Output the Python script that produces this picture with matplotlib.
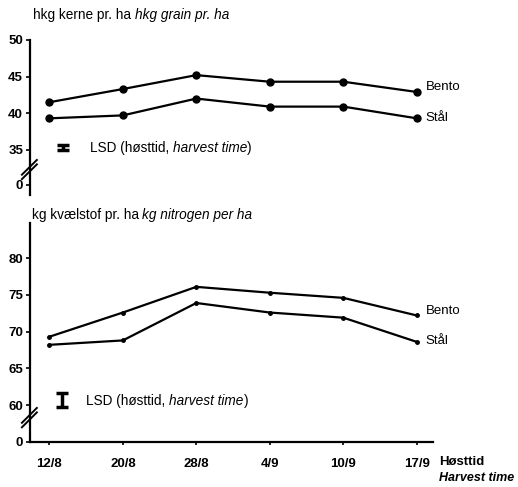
import numpy as np
import matplotlib
matplotlib.use("Agg")
import matplotlib.pyplot as plt

plt.rcParams['font.family'] = ['Liberation Sans', 'DejaVu Sans']

# harvest dates
dates = ['12/8', '20/8', '28/8', '4/9', '10/9', '17/9']

# grain yield, hkg/ha
grain_bento = [41.5, 43.3, 45.2, 44.3, 44.3, 42.9]
grain_staal = [39.3, 39.7, 42.0, 40.9, 40.9, 39.3]
lsd_grain = 0.7

# nitrogen, kg/ha
n_bento = [69.3, 72.6, 76.1, 75.3, 74.6, 72.2]
n_staal = [68.2, 68.8, 73.9, 72.6, 71.9, 68.6]
lsd_n = 1.9

grain_ticks = [0, 35, 40, 45, 50]
n_ticks = [0, 60, 65, 70, 75, 80]


def broken(lo, zero_at):
    # squeeze 0..lo into a short stretch so the axis can be "broken"
    def fwd(v):
        v = np.asarray(v, dtype=float)
        return np.where(v >= lo, v, zero_at + v * (lo - zero_at) / lo)

    def inv(y):
        y = np.asarray(y, dtype=float)
        return np.where(y >= lo, y, (y - zero_at) * lo / (lo - zero_at))
    return fwd, inv


def break_marks(ax, y0, dy):
    # two slanted strokes across the y axis
    for off in (0.0, dy * 0.3):
        ax.plot([-0.02, 0.017], [y0 + off - dy / 2, y0 + off + dy / 2], color='black', lw=1.4,
                transform=ax.transAxes, clip_on=False)


def mixed(ax, x, y, parts, size, coords='data'):
    # parts: list of (text, style)
    t = ax.text(x, y, parts[0][0], fontsize=size, style=parts[0][1], va='baseline',
                transform=ax.transData if coords == 'data' else ax.transAxes)
    for txt, st in parts[1:]:
        t = ax.annotate(txt, xy=(1, 0), xycoords=t, fontsize=size, style=st, va='bottom')
    return t


fig = plt.figure(figsize=(5.18, 4.87), dpi=100)
ax1 = fig.add_axes([0.0579, 0.5996, 0.778, 0.3183])
ax2 = fig.add_axes([0.0579, 0.0930, 0.778, 0.4491])

x = np.arange(len(dates))

# top: grain
ax1.set_yscale('function', functions=broken(34.5, 30.2))
ax1.plot(x, grain_bento, '-o', color='black', lw=1.6, ms=5)
ax1.plot(x, grain_staal, '-o', color='black', lw=1.6, ms=5)
ax1.set_ylim(-11, 50)
ax1.set_xlim(-0.263, 5.22)
ax1.set_yticks(grain_ticks)
ax1.set_xticks([])
for s in ['top', 'right', 'bottom']:
    ax1.spines[s].set_visible(False)
ax1.annotate('Bento', (x[-1], grain_bento[-1]), xytext=(6.5, 3.5), textcoords='offset points',
             fontsize=9.5, va='center')
ax1.annotate('Stål', (x[-1], grain_staal[-1]), xytext=(6.5, 0.5), textcoords='offset points',
             fontsize=9.5, va='center')
ax1.errorbar([0.19], [35.3], yerr=[lsd_grain / 2], color='black', lw=2.5, capsize=4, capthick=2.5)
mixed(ax1, 0.55, 34.7, [('LSD (høsttid, ', 'normal'), ('harvest time', 'italic'), (')', 'normal')], 9.8)
break_marks(ax1, 0.15, 0.095)
mixed(ax1, 0.008, 1.135, [('hkg kerne pr. ha ', 'normal'), ('hkg grain pr. ha', 'italic')], 9.8,
      coords='axes')

# bottom: nitrogen
ax2.set_yscale('function', functions=broken(59.5, 55.0))
ax2.plot(x, n_bento, '-o', color='black', lw=1.6, ms=2.5)
ax2.plot(x, n_staal, '-o', color='black', lw=1.6, ms=2.5)
ax2.set_ylim(0, 84.8)
ax2.set_xlim(-0.263, 5.22)
ax2.set_yticks(n_ticks)
ax2.set_xticks(x)
ax2.set_xticklabels(dates)
for s in ['top', 'right']:
    ax2.spines[s].set_visible(False)
ax2.annotate('Bento', (x[-1], n_bento[-1]), xytext=(6.5, 3.5), textcoords='offset points',
             fontsize=9.5, va='center')
ax2.annotate('Stål', (x[-1], n_staal[-1]), xytext=(6.5, 0.5), textcoords='offset points',
             fontsize=9.5, va='center')
ax2.errorbar([0.17], [60.7], yerr=[lsd_n / 2], color='black', lw=2.5, capsize=4, capthick=2.5)
mixed(ax2, 0.5, 60.0, [('LSD (høsttid, ', 'normal'), ('harvest time', 'italic'), (')', 'normal')], 9.8)
break_marks(ax2, 0.1, 0.068)
mixed(ax2, 0.004, 1.018, [('kg kvælstof pr. ha ', 'normal'), ('kg nitrogen per ha', 'italic')], 9.8,
      coords='axes')
ax2.text(1.015, -0.093, 'Høsttid', transform=ax2.transAxes, fontsize=9.5, va='center',
         fontweight='bold')
ax2.text(1.015, -0.166, 'Harvest time', transform=ax2.transAxes, fontsize=9, va='center',
         style='italic', fontweight='bold')

for ax in (ax1, ax2):
    for s in ['left', 'bottom']:
        ax.spines[s].set_linewidth(1.6)
    ax.tick_params(axis='y', direction='out', length=3, width=1.2, labelsize=9.5, pad=2)
    ax.tick_params(axis='x', direction='out', length=2, width=1.2, labelsize=9.5, pad=9.5)
    for lab in ax.get_yticklabels() + ax.get_xticklabels():
        lab.set_fontweight('bold')

fig.savefig('out.png', dpi=100)
